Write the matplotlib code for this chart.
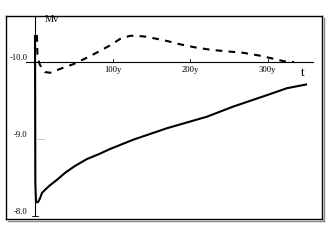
import matplotlib
matplotlib.use("Agg")
import matplotlib.pyplot as plt
from matplotlib.lines import Line2D

# solid curve (t in years, Mv)
solid_t = [0, 0.4, 1.3, 3.9, 6.5, 9.0, 12.9, 19.4, 28.4, 38.7, 51.6, 67.1,
           83.9, 96.8, 126.5, 170.3, 221.9, 255.5, 299.4, 325.2, 351.0]
solid_mv = [-10.35, -8.44, -8.18, -8.18, -8.23, -8.30, -8.34, -8.40, -8.47,
            -8.56, -8.65, -8.74, -8.81, -8.87, -8.99, -9.14, -9.29, -9.42,
            -9.57, -9.66, -9.71]

# dashed curve
dash_t = [2.5, 3.2, 6.5, 12.9, 19.4, 32.3, 49.0, 65.8, 81.3, 99.4, 109.7,
          122.6, 131.6, 141.9, 157.4, 171.6, 187.1, 206.5, 225.8, 245.2,
          268.4, 291.6, 308.4, 321.3, 334.2]
dash_mv = [-10.35, -10.06, -9.96, -9.87, -9.86, -9.91, -9.97, -10.05, -10.13,
           -10.23, -10.30, -10.34, -10.34, -10.33, -10.30, -10.27, -10.23,
           -10.19, -10.16, -10.14, -10.12, -10.08, -10.04, -10.01, -10.00]

x_ticks = [100, 200, 300]
x_tick_labels = ["100y", "200y", "300y"]
y_ticks = [-10.0, -9.0, -8.0]
y_tick_labels = ["-10.0", "-9.0", "-8.0"]

W, H = 327, 245
fig = plt.figure(figsize=(W / 100, H / 100), dpi=100)

# frame in pixels
left, top, right, bottom = 6, 16, 322, 219
ax = fig.add_axes([left / W, 1 - bottom / H, (right - left) / W, (bottom - top) / H])

# pixel mapping: t=0 at px 35, 0.775 px per year; Mv=-10 at py 62, 77 px per mag
def px_to_t(px):
    return (px - 35) / 0.775

def py_to_mv(py):
    return -10 + (py - 62) / 77

ax.set_xlim(px_to_t(left), px_to_t(right))
ax.set_ylim(py_to_mv(bottom), py_to_mv(top))
ax.set_xticks([])
ax.set_yticks([])
for s in ax.spines.values():
    s.set_linewidth(1.0)
    s.set_color("black")

# shadow on frame
fig.add_artist(Line2D([(right + 1.5) / W, (right + 1.5) / W],
                      [1 - (bottom + 1.5) / H, 1 - (top + 2) / H],
                      color="#888888", lw=1.0))
fig.add_artist(Line2D([(left + 2) / W, (right + 1.5) / W],
                      [1 - (bottom + 1.5) / H, 1 - (bottom + 1.5) / H],
                      color="#888888", lw=1.0))

# axes lines
ax.plot([0, 0], [py_to_mv(top), -8.0], color="black", lw=0.8)
ax.plot([px_to_t(26), px_to_t(313)], [-10, -10], color="black", lw=0.8)

# ticks
for xt in x_ticks:
    ax.plot([xt, xt], [-10, py_to_mv(59)], color="black", lw=0.6)
ax.plot([px_to_t(38), px_to_t(44)], [-9, -9], color="#bbbbbb", lw=0.6)
ax.plot([px_to_t(32), px_to_t(38)], [-8, -8], color="black", lw=0.6)

ax.plot(solid_t, solid_mv, color="black", lw=1.5, solid_capstyle="butt",
        solid_joinstyle="round")
ax.plot(dash_t, dash_mv, color="black", lw=1.5, dashes=(3.2, 3))

serif = ["Liberation Serif", "DejaVu Serif"]
for xt, lab in zip(x_ticks, x_tick_labels):
    ax.text(xt, py_to_mv(70), lab, ha="center", va="center",
            fontsize=6.2, family=serif)
for yt, lab in zip(y_ticks, y_tick_labels):
    ax.text(px_to_t(27.5), yt - 4 / 77, lab, ha="right", va="center",
            fontsize=6.2, family=serif)

ax.text(px_to_t(45), py_to_mv(19), "Mv", ha="left", va="center",
        fontsize=7.5, family=serif)
ax.text(px_to_t(303), py_to_mv(73), "t", ha="center", va="center",
        fontsize=9.5, family=serif)

fig.savefig("out.png", dpi=100)
